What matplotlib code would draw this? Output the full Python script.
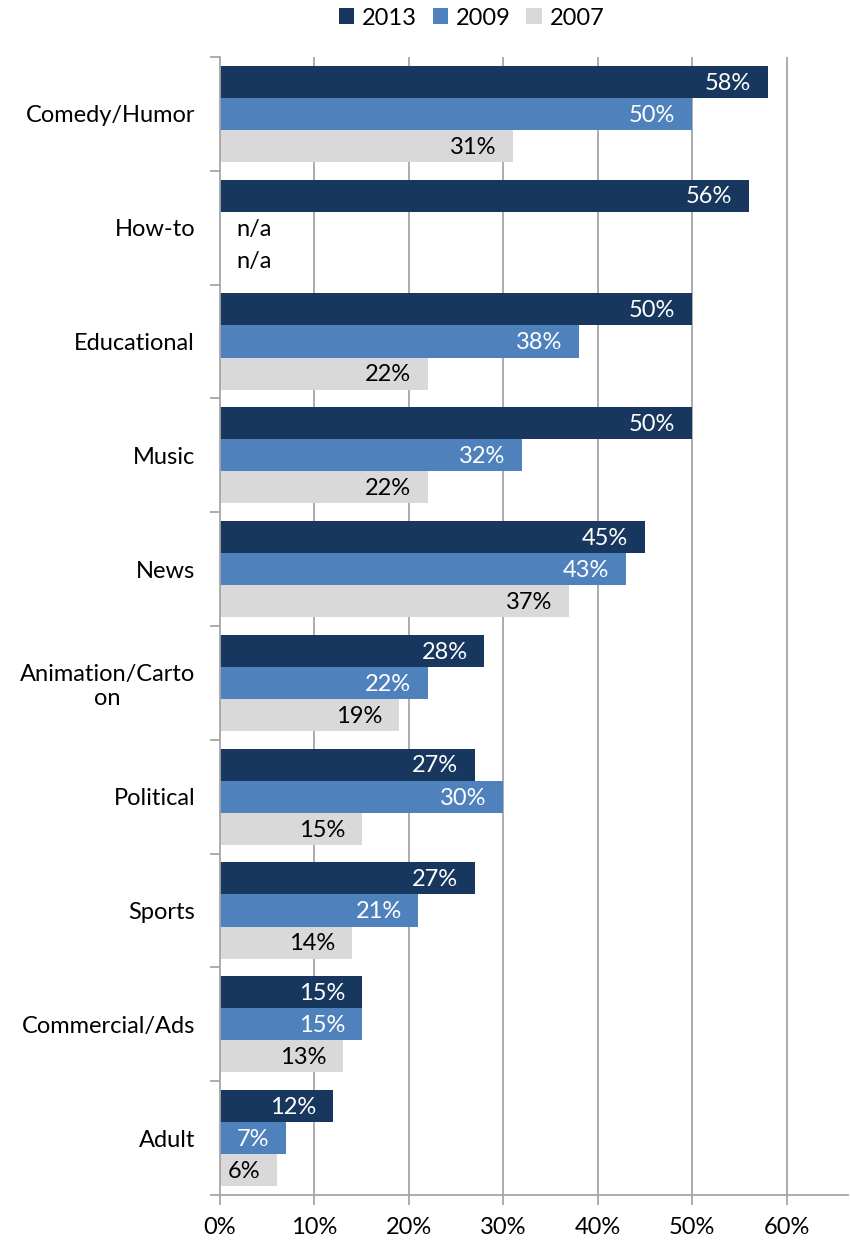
import numpy as np
import matplotlib
matplotlib.use("Agg")
import matplotlib.pyplot as plt
from matplotlib.patches import Patch
from matplotlib.ticker import FixedLocator, PercentFormatter

plt.rcParams['font.family'] = ['Lato', 'DejaVu Sans']

categories = ["Comedy/Humor", "How-to", "Educational", "Music", "News",
              "Animation/Carto\non", "Political", "Sports", "Commercial/Ads", "Adult"]
years = ["2013", "2009", "2007"]
v2013 = [58, 56, 50, 50, 45, 28, 27, 27, 15, 12]
v2009 = [50, None, 38, 32, 43, 22, 30, 21, 15, 7]
v2007 = [31, None, 22, 22, 37, 19, 15, 14, 13, 6]
xticks = [0, 10, 20, 30, 40, 50, 60]

colors = ["#17375E", "#4F81BD", "#D9D9D9"]
label_colors = ["white", "white", "black"]
series = [v2013, v2009, v2007]

FS = 17

fig = plt.figure(figsize=(8.5, 12.46), dpi=100)
ax = fig.add_axes([220 / 850, 1 - 1195 / 1246, 628 / 850, (1195 - 57) / 1246])

n = len(categories)
bar_h = 0.282
centers = np.arange(n)
offsets = [-bar_h, 0, bar_h]
grid_color = "#A6A6A6"

ax.set_axisbelow(True)
for xv in xticks[1:]:
    ax.axvline(xv, color=grid_color, lw=1.3, zorder=0)

for s, (vals, col, lc, off) in enumerate(zip(series, colors, label_colors, offsets)):
    for i, v in enumerate(vals):
        y = centers[i] + off
        if v is None:
            ax.annotate("n/a", xy=(0, y), xytext=(12, -1), textcoords="offset points",
                        ha="left", va="center", fontsize=FS, color="black")
            continue
        ax.barh(y, v, height=bar_h, color=col, zorder=2)
        ax.annotate(f"{v}%", xy=(v, y), xytext=(-12, -1), textcoords="offset points",
                    ha="right", va="center", fontsize=FS, color=lc, zorder=3)

ax.set_xlim(0, 66.5)
ax.set_ylim(n - 0.5, -0.5)

ax.xaxis.set_major_locator(FixedLocator(xticks))
ax.xaxis.set_major_formatter(PercentFormatter(decimals=0))
ax.set_yticks(centers)
ax.set_yticklabels(categories, multialignment="center")
ax.yaxis.set_minor_locator(FixedLocator(np.arange(n + 1) - 0.5))
ax.tick_params(axis="y", which="major", length=0, pad=18, labelsize=FS)
ax.tick_params(axis="y", which="minor", length=7, width=1.3, color=grid_color)
ax.tick_params(axis="x", which="major", length=7, width=1.3, color=grid_color,
               labelsize=FS, pad=9)

for side in ["top", "right"]:
    ax.spines[side].set_visible(False)
for side in ["left", "bottom"]:
    ax.spines[side].set_color(grid_color)
    ax.spines[side].set_linewidth(1.3)

handles = [Patch(facecolor=c, edgecolor="none", label=y) for c, y in zip(colors, years)]
fig.legend(handles=handles, loc="center", bbox_to_anchor=(0.555, 0.9855), ncol=3,
           frameon=False, fontsize=FS, handlelength=0.65, handleheight=0.65,
           handletextpad=0.35, columnspacing=0.65)

fig.savefig("out.png", dpi=100)
